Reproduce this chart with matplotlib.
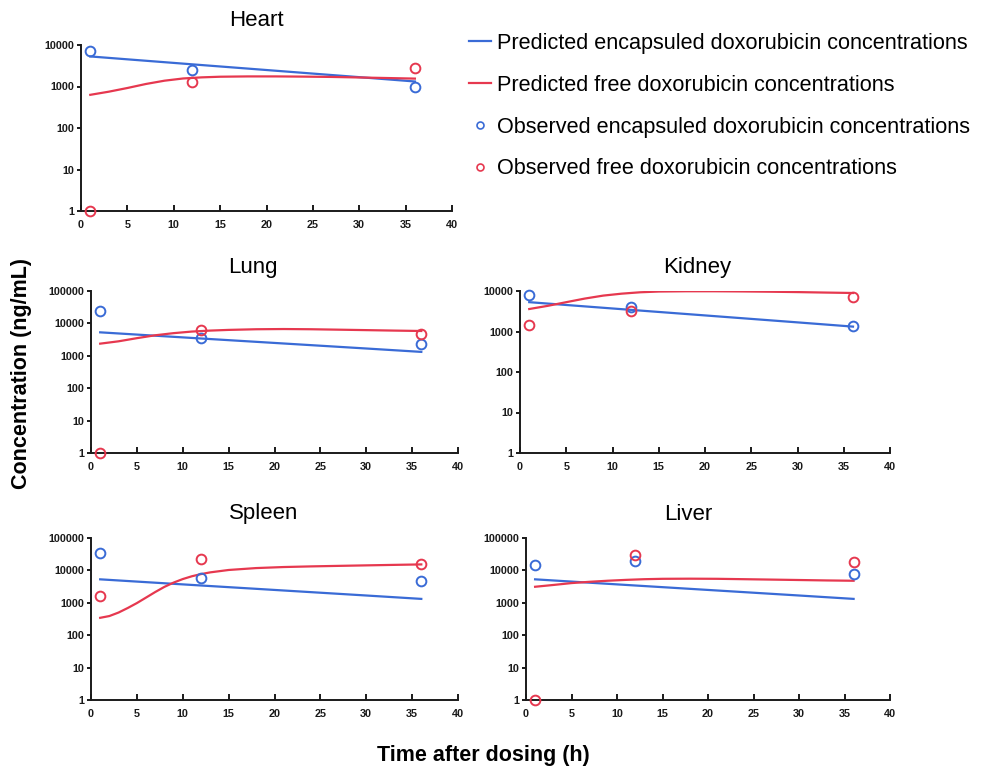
import matplotlib
matplotlib.use("Agg")
import matplotlib.pyplot as plt
from matplotlib.lines import Line2D
from matplotlib.ticker import FixedLocator, FixedFormatter, NullLocator

plt.rcParams['font.family'] = ['Liberation Sans', 'DejaVu Sans']

BLUE = "#3a6bd6"
RED = "#e6384f"

# ---- data ----
obs_times = [1, 12, 36]

# predicted encapsulated (same in all organs)
pred_enc_t = [1, 6, 12, 18, 24, 30, 36]
pred_enc = [5300, 4340, 3420, 2700, 2130, 1680, 1320]

pred_free_t = [1, 3, 5, 7, 9, 11, 13, 15, 18, 21, 24, 27, 30, 33, 36]

heart_pred_free = [630, 750, 920, 1150, 1380, 1560, 1660, 1720, 1750, 1750, 1730, 1700, 1650, 1600, 1550]
heart_obs_enc = [7300, 2550, 960]
heart_obs_free = [1, 1310, 2790]

lung_pred_free = [2370, 2800, 3500, 4300, 5000, 5600, 6000, 6300, 6600, 6700, 6600, 6400, 6200, 6000, 5830]
lung_obs_enc = [24700, 3540, 2310]
lung_obs_free = [1, 6110, 4710]

kidney_pred_free = [3590, 4300, 5300, 6500, 7700, 8600, 9300, 9700, 9850, 9850, 9750, 9600, 9400, 9150, 8930]
kidney_obs_enc = [8110, 4030, 1340]
kidney_obs_free = [1475, 3150, 7250]

spleen_pred_free_t = [1, 2, 3, 4, 5, 6, 7, 8, 9, 10, 11, 12, 13, 15, 18, 21, 24, 27, 30, 33, 36]
spleen_pred_free = [344, 390, 500, 690, 980, 1450, 2150, 3100, 4200, 5400, 6600, 7700, 8700,
                    10300, 11800, 12700, 13300, 13800, 14300, 14800, 15300]
spleen_obs_enc = [34400, 5790, 4790]
spleen_obs_free = [1570, 21900, 15700]

liver_pred_free = [3125, 3550, 4060, 4450, 4800, 5100, 5350, 5500, 5550, 5500, 5350, 5200, 5050, 4900, 4790]
liver_obs_enc = [14970, 19400, 7890]
liver_obs_free = [1, 29800, 17700]

organs = ["Heart", "Lung", "Kidney", "Spleen", "Liver"]
pred_free_times = [pred_free_t, pred_free_t, pred_free_t, spleen_pred_free_t, pred_free_t]
pred_free_all = [heart_pred_free, lung_pred_free, kidney_pred_free, spleen_pred_free, liver_pred_free]
obs_enc_all = [heart_obs_enc, lung_obs_enc, kidney_obs_enc, spleen_obs_enc, liver_obs_enc]
obs_free_all = [heart_obs_free, lung_obs_free, kidney_obs_free, spleen_obs_free, liver_obs_free]
ytops = [1e4, 1e5, 1e4, 1e5, 1e5]

legend_labels = ["Predicted encapsuled doxorubicin concentrations",
                 "Predicted free doxorubicin concentrations",
                 "Observed encapsuled doxorubicin concentrations",
                 "Observed free doxorubicin concentrations"]

x_ticks = [0, 5, 10, 15, 20, 25, 30, 35, 40]

# ---- layout ----
W, H = 988, 771
fig = plt.figure(figsize=(W / 100, H / 100), dpi=100)

boxes = [  # left, top, right, bottom in pixels
    (81, 45, 452, 211),
    (91, 291, 458, 453),
    (520, 291, 890, 453),
    (91, 538, 458, 700),
    (526, 538, 890, 700),
]
title_x = [0.474, 0.441, 0.478, 0.471, 0.445]

for i, name in enumerate(organs):
    l, t, r, b = boxes[i]
    ax = fig.add_axes([l / W, 1 - b / H, (r - l) / W, (b - t) / H])
    ax.plot(pred_enc_t, pred_enc, color=BLUE, lw=1.6, zorder=3)
    ax.plot(pred_free_times[i], pred_free_all[i], color=RED, lw=1.6, zorder=3)
    ax.plot(obs_times, obs_enc_all[i], ls='none', marker='o', ms=7, mfc='none',
            mec=BLUE, mew=1.4, clip_on=False, zorder=4)
    ax.plot(obs_times, obs_free_all[i], ls='none', marker='o', ms=7, mfc='none',
            mec=RED, mew=1.4, clip_on=False, zorder=4)
    ax.set_yscale('log')
    ax.set_ylim(1, ytops[i])
    ax.set_xlim(0, 40)
    ndec = 4 if ytops[i] == 1e4 else 5
    yt = [10 ** k for k in range(ndec + 1)]
    ax.yaxis.set_major_locator(FixedLocator(yt))
    ax.yaxis.set_major_formatter(FixedFormatter([str(v) for v in yt]))
    ax.yaxis.set_minor_locator(NullLocator())
    ax.set_xticks(x_ticks)
    ax.set_xticklabels([str(v) for v in x_ticks])
    for s in ['top', 'right']:
        ax.spines[s].set_visible(False)
    for s in ['left', 'bottom']:
        ax.spines[s].set_linewidth(1.4)
        ax.spines[s].set_color('#1a1a1a')
    ax.tick_params(axis='y', direction='out', length=3, width=1.4, labelsize=7.8,
                   colors='#1a1a1a', pad=2)
    ax.tick_params(axis='x', direction='in', length=4, width=1.4, labelsize=7.8,
                   colors='#1a1a1a', pad=6.5)
    for lab in ax.get_xticklabels() + ax.get_yticklabels():
        lab.set_fontweight('bold')
    ax.set_facecolor('none')
    ax.text(title_x[i], 1 + 24 / (b - t), name, transform=ax.transAxes,
            ha='center', va='center', fontsize=16)

handles = [
    Line2D([], [], color=BLUE, lw=1.6),
    Line2D([], [], color=RED, lw=1.6),
    Line2D([], [], ls='none', marker='o', ms=5, mfc='none', mec=BLUE, mew=1.2),
    Line2D([], [], ls='none', marker='o', ms=5, mfc='none', mec=RED, mew=1.2),
]
fig.legend(handles, legend_labels, loc='upper left', bbox_to_anchor=(469 / W, 1 - 33 / H),
           frameon=False, fontsize=15.6, handlelength=1.0, handletextpad=0.3,
           labelspacing=0.96, borderpad=0, borderaxespad=0)

fig.text(22 / W, 1 - 373 / H, "Concentration (ng/mL)", rotation=90, ha='center', va='center',
         fontsize=15.5, fontweight='bold')
fig.text(483 / W, 1 - 756 / H, "Time after dosing (h)", ha='center', va='center',
         fontsize=15.5, fontweight='bold')

fig.savefig("out.png", dpi=100)
